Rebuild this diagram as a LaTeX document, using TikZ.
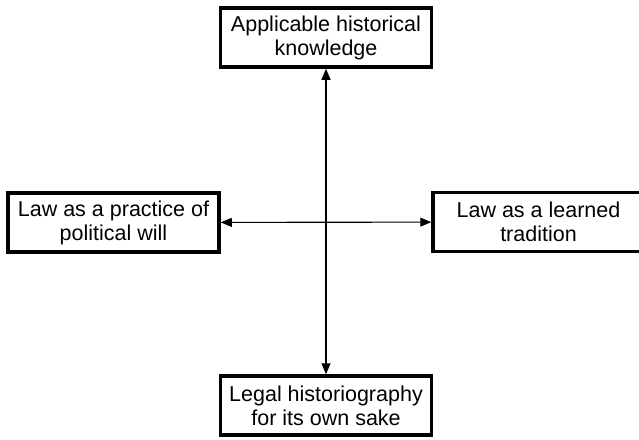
\documentclass[tikz,border=0pt]{standalone}
\usepackage{fontspec}
\setmainfont{Liberation Sans}
\usetikzlibrary{arrows.meta}
\begin{document}
\begin{tikzpicture}[x=1pt, y=-1pt,
    box/.style={draw, line width=3.5pt, minimum width=211pt, minimum height=59pt,
      inner sep=0pt, align=center, font=\fontsize{21.5}{24}\selectfont},
    link/.style={{Triangle[length=11pt,width=9pt]}-{Triangle[length=11pt,width=9pt]}, line width=1.1pt}]
  \useasboundingbox (0,0) rectangle (639,439);
  \clip (0,0) rectangle (639,439);
  \node[box] (applied) at (326,37.5) {Applicable historical\\knowledge};
  \node[box] (political) at (113.5,222.5) {Law as a practice of\\political will};
  \node[box] (learned) at (538.5,222) {Law as a learned\\tradition};
  \node[box] (ownsake) at (326,405.5) {Legal historiography\\for its own sake};
  \draw [link] (applied) -- (ownsake);
  \draw [link] (political) -- (learned);
\end{tikzpicture}
\end{document}
